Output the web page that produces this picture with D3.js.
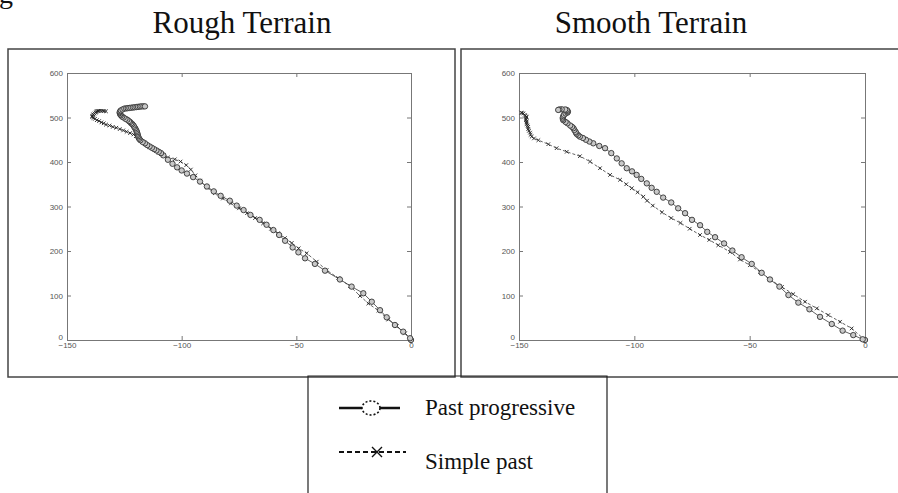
<!DOCTYPE html>
<html><head><meta charset="utf-8">
<script src="https://cdn.jsdelivr.net/npm/d3@7"></script>
<style>body{margin:0;background:#fff}svg{display:block}</style>
</head><body>
<svg id="c" width="898" height="493"></svg>
<script>
// ---- data (x, y) ----
const panelTitles = ["Rough Terrain", "Smooth Terrain"];
const seriesNames = ["Past progressive", "Simple past"];
const xTicks = [-150, -100, -50, 0];
const yTicks = [0, 100, 200, 300, 400, 500, 600];

const roughProgressive = [[0,0],[-0.4,4],[-3.4,18.7],[-7,33.7],[-10.6,51],[-13.5,67],[-17.1,86],[-20.8,105],[-25.9,120],[-31,136],[-37.5,155.8],[-41.9,171],[-46.2,183.6],[-49.1,197],[-51.6,208],[-54.9,223],[-57.5,236],[-60,247],[-63,259],[-66,270],[-70,281],[-73,292],[-76,302],[-79,313],[-83,324],[-86,334],[-89,345],[-92,356],[-95,366],[-97.7,374],[-100,381],[-102,388],[-104,396],[-106,405],[-108,415],[-109,420],[-110,423],[-111,426],[-112,429],[-113,432],[-114,435],[-115,438],[-116,442],[-117,445],[-118,449],[-118.5,452],[-118.8,455],[-119,458],[-119.2,461],[-119.3,464],[-119.5,467],[-119.7,470],[-120,473],[-120.3,476],[-120.7,479],[-121,482],[-121.5,485],[-122,487],[-122.5,490],[-123,492],[-123.7,495],[-124.5,497],[-125.3,500],[-126,502],[-126.5,505],[-126.8,507],[-127,510],[-127,512],[-126.8,514],[-126.5,516],[-125.8,518],[-125,520],[-124.2,520.5],[-123.5,521],[-122.8,521.5],[-122,522],[-121.2,522.5],[-120.5,523],[-119.7,523.5],[-119,524],[-118.2,524.5],[-117.5,525],[-116.7,525],[-116,525]];

const roughSimple = [[0,0],[-2.6,15],[-6.2,31],[-9.9,46],[-14.2,66],[-18.6,82],[-22.2,99],[-26.6,121],[-31.7,139],[-36.8,157],[-41.1,176],[-45.5,195],[-49,206],[-52,218],[-55,229],[-58,240],[-61,250],[-64.5,262],[-68,274],[-71.5,285],[-75,296],[-78.5,307],[-82,318],[-85.5,330],[-89,343],[-92,358],[-94,370],[-96,383],[-98,393],[-100.5,401],[-103,406],[-106,410],[-108,415],[-109,418],[-110,421],[-111,425],[-112.5,429],[-114,434],[-115.5,439],[-117,445],[-118,449],[-119,454],[-120,458],[-121,462],[-122.5,465],[-124,468],[-125.5,471],[-127,474],[-128.5,477],[-130,479],[-131.5,482],[-133,484],[-134,487],[-135,489],[-136,492],[-137,494],[-137.8,497],[-138.5,499],[-139,501],[-139,503],[-138.8,505],[-138.5,507],[-138,509],[-137.5,511],[-137.3,513],[-137,514],[-136.5,514.5],[-136,515],[-135.3,515],[-134.5,515],[-133.8,514.5],[-133,514]];

const smoothProgressive = [[0,0],[-1,1.6],[-5.1,11],[-9.7,21],[-14.4,36],[-19.5,52],[-24.1,69],[-28.9,84],[-33.2,101],[-37.1,120],[-41.2,136],[-44.8,151],[-49.1,171],[-53.5,186],[-57.5,201],[-61.1,217],[-65,231],[-68.4,243],[-71.5,258],[-75,270],[-78,285],[-81,296],[-84,309],[-87.5,320],[-90.3,333],[-92.5,342],[-94.6,352],[-97,362],[-99,371],[-101,379],[-103.3,386],[-105.5,397],[-107.6,408],[-110,420],[-112.7,431],[-115.2,436],[-117.8,442],[-119.5,446],[-121,450],[-122.3,454],[-123.6,457],[-124.3,460],[-125,463],[-125.3,466],[-125.5,468],[-126,472],[-126.4,476],[-127,479],[-127.8,482],[-129,487],[-129.8,490],[-130.8,494],[-131,497],[-131,500],[-130.8,503],[-130.5,506],[-129.8,509],[-129,511],[-128.8,513],[-129,515],[-129.3,517],[-130,518],[-131.5,518.5],[-132.5,518],[-133,517]];

const smoothSimple = [[0,0],[-5.8,26],[-10.8,41],[-15.9,56],[-20.9,71],[-26,86],[-31.1,103],[-36,119],[-41.2,136],[-45.5,153],[-49.9,168],[-54.2,181],[-58.5,198],[-63.6,213],[-67.5,225],[-71.5,236],[-76,250],[-80,263],[-84,274],[-88,287],[-92,302],[-94.5,313],[-96.1,322],[-98.6,332],[-101.1,341],[-103.5,350],[-106.2,360],[-110.5,371],[-114.9,386],[-119.2,401],[-123.6,413],[-129.3,423],[-133.7,431],[-137.3,440],[-141.6,449],[-143.5,453],[-144.5,457],[-145,461],[-145.2,466],[-145.7,470],[-146,474],[-146,479],[-146.3,482],[-146.7,485],[-146.7,488],[-146.7,491],[-147,494],[-147,497],[-146.8,500],[-146.7,502],[-147.2,504],[-147.5,506],[-148.1,509],[-148.6,510],[-149,511]];

const panels = [
  {title: panelTitles[0], prog: roughProgressive, simp: roughSimple, frame:[8,49,455,377], plot:[67,73,411,340], titleX:242},
  {title: panelTitles[1], prog: smoothProgressive, simp: smoothSimple, frame:[461,49,905,377], plot:[519,73,865,340], titleX:651}
];

const svg = d3.select("#c");
svg.append("rect").attr("width",898).attr("height",493).attr("fill","#fff");

// cut-off glyph from text above
svg.append("text").attr("x",-1).attr("y",3).attr("font-family","Liberation Serif, Times New Roman, serif")
  .attr("font-size",28).attr("fill","#111").text("g");

const lineColor = "#3a3a3a";

panels.forEach(p => {
  const [fx0,fy0,fx1,fy1] = p.frame;
  svg.append("rect").attr("x",fx0).attr("y",fy0).attr("width",fx1-fx0).attr("height",fy1-fy0)
    .attr("fill","none").attr("stroke","#444").attr("stroke-width",1.5);
  svg.append("text").attr("x",p.titleX).attr("y",33).attr("text-anchor","middle")
    .attr("font-family","Liberation Serif, Times New Roman, serif").attr("font-size",31).attr("fill","#111").text(p.title);

  const [px0,py0,px1,py1] = p.plot;
  const x = d3.scaleLinear().domain([-150,0]).range([px0,px1]);
  const y = d3.scaleLinear().domain([0,600]).range([py1,py0]);
  const g = svg.append("g");

  const styleAxis = sel => {
    sel.select(".domain").attr("stroke","#777").attr("stroke-width",1);
    sel.selectAll(".tick line").attr("stroke","#777");
    sel.selectAll("text").attr("fill","#555").attr("font-family","Liberation Sans, Arial, sans-serif").attr("font-size",8);
  };
  g.append("g").attr("transform",`translate(0,${py1})`)
    .call(d3.axisBottom(x).tickValues(xTicks).tickSize(-4).tickPadding(2.5).tickSizeOuter(0)).call(styleAxis);
  g.append("g").attr("transform",`translate(0,${py0})`)
    .call(d3.axisTop(x).tickValues(xTicks).tickSize(-4).tickFormat("").tickSizeOuter(0)).call(styleAxis);
  const yAx = g.append("g").attr("transform",`translate(${px0},0)`)
    .call(d3.axisLeft(y).tickValues(yTicks).tickSize(-4).tickPadding(4).tickSizeOuter(0)).call(styleAxis);
  // lift the "0" label so it sits just above the "-150" label
  yAx.selectAll(".tick text").filter(d => d === 0).attr("dy","-0.05em");
  g.append("g").attr("transform",`translate(${px1},0)`)
    .call(d3.axisRight(y).tickValues(yTicks).tickSize(-4).tickFormat("").tickSizeOuter(0)).call(styleAxis);

  const line = d3.line().x(d=>x(d[0])).y(d=>y(d[1]));
  g.append("path").datum(p.simp).attr("d",line).attr("fill","none").attr("stroke",lineColor)
    .attr("stroke-width",0.8).attr("stroke-dasharray","3,2");
  g.append("path").datum(p.prog).attr("d",line).attr("fill","none").attr("stroke",lineColor).attr("stroke-width",0.8);

  const xs = 1.8;
  g.selectAll(".xm").data(p.simp).enter().append("path")
    .attr("d",d=>{const cx=x(d[0]),cy=y(d[1]);return `M${cx-xs},${cy-xs}L${cx+xs},${cy+xs}M${cx-xs},${cy+xs}L${cx+xs},${cy-xs}`;})
    .attr("stroke","#222").attr("stroke-width",0.9).attr("fill","none");
  g.selectAll(".cm").data(p.prog).enter().append("circle")
    .attr("cx",d=>x(d[0])).attr("cy",d=>y(d[1])).attr("r",2.7)
    .attr("fill","#c8c8c8").attr("stroke","#333").attr("stroke-width",0.9);
});

// legend
const leg = svg.append("g");
leg.append("path").attr("d","M308,493V376H607V493").attr("fill","none").attr("stroke","#222").attr("stroke-width",1.2);
leg.append("line").attr("x1",339).attr("x2",400).attr("y1",408).attr("y2",408).attr("stroke","#111").attr("stroke-width",2.5);
leg.append("ellipse").attr("cx",371).attr("cy",408).attr("rx",9).attr("ry",7).attr("fill","#fff")
  .attr("stroke","#111").attr("stroke-width",1.6).attr("stroke-dasharray","2,2");
leg.append("line").attr("x1",339).attr("x2",406).attr("y1",452).attr("y2",452).attr("stroke","#111")
  .attr("stroke-width",1.8).attr("stroke-dasharray","5,3");
leg.append("path").attr("d","M372,447L382,457M372,457L382,447").attr("stroke","#111").attr("stroke-width",1.4);
leg.selectAll(".lt").data(seriesNames).enter().append("text")
  .attr("x",425).attr("y",(d,i)=>i===0?415:469)
  .attr("font-family","Liberation Serif, Times New Roman, serif").attr("font-size",23).attr("fill","#111").text(d=>d);
</script>
</body></html>
